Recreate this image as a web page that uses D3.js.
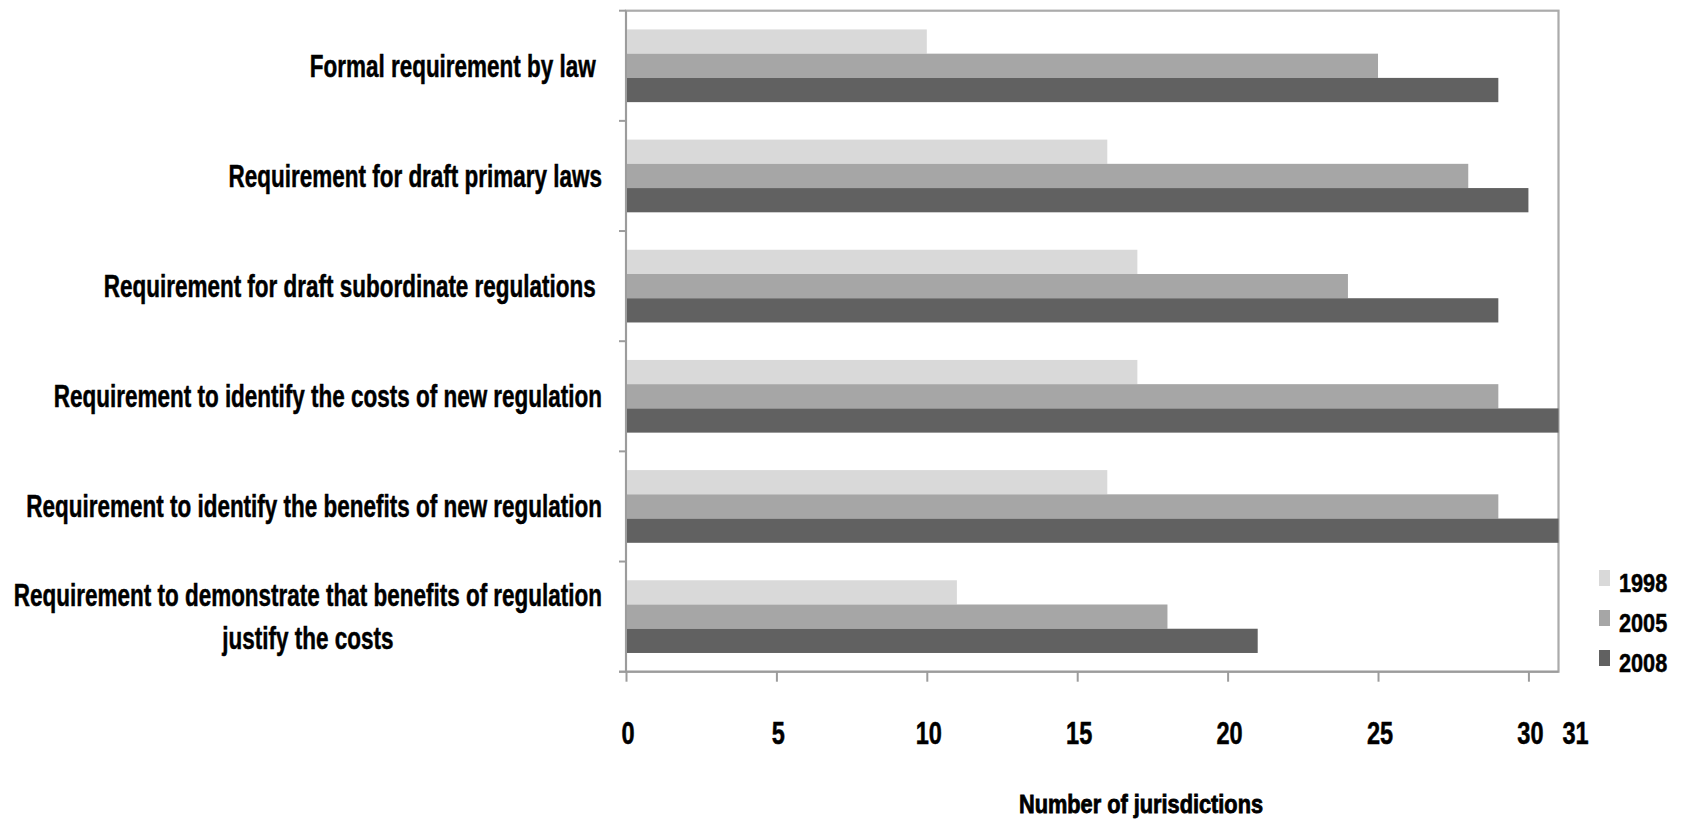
<!DOCTYPE html>
<html>
<head>
<meta charset="utf-8">
<script src="https://cdn.jsdelivr.net/npm/d3@7"></script>
<style>
  html, body { margin: 0; padding: 0; background: #ffffff; }
  svg { display: block; }
  text { font-family: "Liberation Sans", Arial, sans-serif; font-weight: bold; fill: #000; stroke: #000; stroke-width: 0.5px; }
</style>
</head>
<body>
<svg id="chart" width="1682" height="824"></svg>
<script>
// ---- data ----
const categories = [
  "Formal requirement by law ",
  "Requirement for draft primary laws",
  "Requirement for draft subordinate regulations ",
  "Requirement to identify the costs of new regulation",
  "Requirement to identify the benefits of new regulation",
  "Requirement to demonstrate that benefits of regulation\njustify the costs"
];
const seriesNames = ["1998", "2005", "2008"];
const values1998 = [10, 16, 17, 17, 16, 11];
const values2005 = [25, 28, 24, 29, 29, 18];
const values2008 = [29, 30, 29, 31, 31, 21];
const xTickValues = [0, 5, 10, 15, 20, 25, 30];
const xEndLabel = 31;
const xMax = 31;
const axisTitle = "Number of jurisdictions";
const colors = ["#d9d9d9", "#a6a6a6", "#616161"];

const seriesValues = [values1998, values2005, values2008];
const rows = categories.map((c, i) => ({
  cat: c,
  vals: seriesNames.map((s, j) => ({ key: s, value: seriesValues[j][i] }))
}));

// ---- layout ----
const svg = d3.select("#chart");
const plot = { left: 626, right: 1558.5, top: 10.7, bottom: 671.7 };

const x = d3.scaleLinear().domain([0, xMax]).range([plot.left, plot.right]);
const y = d3.scaleBand().domain(categories).range([plot.top, plot.bottom])
  .paddingInner(0.34).paddingOuter(0.17);
const y1 = d3.scaleBand().domain(seriesNames).range([0, y.bandwidth()]);
const color = d3.scaleOrdinal().domain(seriesNames).range(colors);

// squeeze helper: compress text horizontally like the condensed reference font
function squeeze(sel, factor) {
  sel.each(function () {
    const w = this.getComputedTextLength();
    if (w > 0) {
      d3.select(this).attr("textLength", w * factor).attr("lengthAdjust", "spacingAndGlyphs");
    }
  });
}

// plot border
svg.append("rect")
  .attr("x", plot.left).attr("y", plot.top)
  .attr("width", plot.right - plot.left).attr("height", plot.bottom - plot.top)
  .attr("fill", "none").attr("stroke", "#ababab").attr("stroke-width", 2.2);

// bars
const groups = svg.append("g").selectAll("g").data(rows).join("g")
  .attr("transform", d => `translate(0,${y(d.cat)})`);
groups.selectAll("rect").data(d => d.vals).join("rect")
  .attr("x", x(0))
  .attr("y", d => y1(d.key))
  .attr("width", d => x(d.value) - x(0))
  .attr("height", y1.bandwidth())
  .attr("fill", d => color(d.key));

// y axis (category boundaries ticks)
const yAxisG = svg.append("g");
const boundaries = d3.range(categories.length + 1).map(i => plot.top + i * y.step());
yAxisG.append("line")
  .attr("x1", plot.left).attr("x2", plot.left)
  .attr("y1", plot.top).attr("y2", plot.bottom)
  .attr("stroke", "#9c9c9c").attr("stroke-width", 2);
yAxisG.selectAll("line.tick").data(boundaries).join("line")
  .attr("class", "tick")
  .attr("x1", plot.left - 7).attr("x2", plot.left)
  .attr("y1", d => d).attr("y2", d => d)
  .attr("stroke", "#9c9c9c").attr("stroke-width", 2);

// category labels
const labelRight = 602;
const labelSize = 31;
const labelG = svg.append("g");
rows.forEach(r => {
  const lines = r.cat.split("\n");
  const cy = y(r.cat) + y.bandwidth() / 2;
  const lineH = 1.38;
  const texts = lines.map((ln, k) => {
    const off = (k - (lines.length - 1) / 2) * lineH;
    return labelG.append("text")
      .attr("y", cy)
      .attr("dy", (0.35 + off) + "em")
      .style("font-size", labelSize + "px")
      .style("white-space", "pre")
      .text(ln);
  });
  texts.forEach(t => squeeze(t, 0.725));
  if (lines.length === 1) {
    texts[0].attr("x", labelRight).attr("text-anchor", "end");
  } else {
    const w0 = +texts[0].attr("textLength");
    const cx = labelRight - w0 / 2;
    texts.forEach(t => t.attr("x", cx).attr("text-anchor", "middle"));
  }
});

// x axis
const xAxis = d3.axisBottom(x).tickValues(xTickValues).tickSize(10).tickPadding(40).tickSizeOuter(0);
const xAxisG = svg.append("g").attr("transform", `translate(0,${plot.bottom})`).call(xAxis);
xAxisG.select(".domain").attr("stroke", "#9c9c9c").attr("stroke-width", 2)
  .attr("d", `M${plot.left - 7},0H${plot.right}`);
xAxisG.selectAll(".tick line").attr("stroke", "#9c9c9c").attr("stroke-width", 2);
xAxisG.selectAll(".tick text")
  .attr("fill", "#000")
  .attr("dx", 1.5)
  .style("font-family", "\"Liberation Sans\", Arial, sans-serif")
  .style("font-weight", "bold")
  .style("font-size", "31px");
squeeze(xAxisG.selectAll(".tick text"), 0.76);

// extra end label "31"
const endLbl = xAxisG.append("text")
  .attr("x", x(xEndLabel) + 17).attr("y", 50)
  .attr("dy", "0.71em")
  .attr("text-anchor", "middle")
  .attr("fill", "#000")
  .style("font-size", "31px")
  .text(xEndLabel);
squeeze(endLbl, 0.76);

// axis title
const title = svg.append("text")
  .attr("x", 1141).attr("y", 813)
  .attr("text-anchor", "middle")
  .style("font-size", "25px")
  .style("stroke-width", "0.8px")
  .text(axisTitle);
squeeze(title, 0.87);

// legend
const legend = svg.append("g").attr("transform", "translate(1599,570)");
const li = legend.selectAll("g").data(seriesNames).join("g")
  .attr("transform", (d, i) => `translate(0,${i * 40})`);
li.append("rect").attr("width", 11).attr("height", 16).attr("fill", d => color(d));
li.append("text").attr("x", 20).attr("y", 22)
  .style("font-size", "25.5px").text(d => d);
squeeze(li.selectAll("text"), 0.85);
</script>
</body>
</html>
